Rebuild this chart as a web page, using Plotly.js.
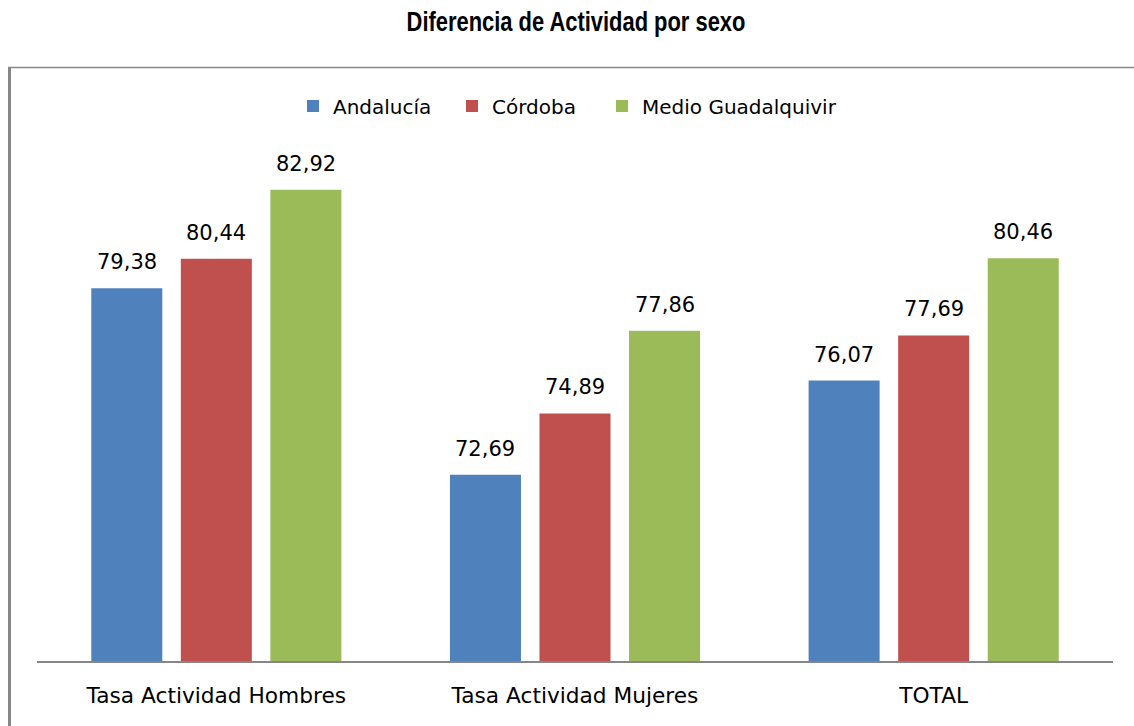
<!DOCTYPE html>
<html>
<head>
<meta charset="utf-8">
<script src="https://cdn.plot.ly/plotly-3.0.1.min.js"></script>
<style>
  html, body { margin: 0; padding: 0; background: #ffffff; }
  #chart { width: 1134px; height: 726px; }
</style>
</head>
<body>
<div id="chart"></div>
<script>
// ---- data ----
var categories = ["Tasa Actividad Hombres", "Tasa Actividad Mujeres", "TOTAL"];
var seriesNames = ["Andalucía", "Córdoba", "Medio Guadalquivir"];
var andalucia = [79.38, 72.69, 76.07];
var cordoba = [80.44, 74.89, 77.69];
var medioGuadalquivir = [82.92, 77.86, 80.46];
var yRange = [66, 86];

// ---- style ----
var colors = ["#4F81BD", "#C0504D", "#9BBB59"];
var W = 1134, H = 726;
var M = { l: 37, r: 21, t: 104, b: 65 };
var BARGAP = 0.251, BARGROUPGAP = 0.207;
var legendLeftPx = [293, 452, 602];
var TITLE_WIDTH_PX = 339;
var seriesValues = [andalucia, cordoba, medioGuadalquivir];

function fmt(v) { return v.toFixed(2).replace(".", ","); }

var pw = W - M.l - M.r, ph = H - M.t - M.b;
function px2paperX(px) { return (px - M.l) / pw; }
function px2paperY(py) { return (H - M.b - py) / ph; }

var legendFont = { family: "DejaVu Sans, sans-serif", size: 20, color: "#000000" };

var traces = seriesValues.map(function (vals, j) {
  return {
    type: "bar",
    name: seriesNames[j],
    x: categories,
    y: vals,
    marker: { color: colors[j] },
    hoverinfo: "skip",
    legend: j === 0 ? "legend" : "legend" + (j + 1)
  };
});

// value labels via annotations placed on the axis scale
var slot = (1 - BARGAP) / seriesValues.length;
var annotations = [];
seriesValues.forEach(function (vals, j) {
  vals.forEach(function (v, i) {
    annotations.push({
      x: i + (j - (seriesValues.length - 1) / 2) * slot,
      y: v,
      xref: "x", yref: "y",
      text: fmt(v),
      showarrow: false,
      xanchor: "center", yanchor: "bottom",
      yshift: 12,
      font: { family: "DejaVu Sans, sans-serif", size: 21, color: "#000000" }
    });
  });
});

var shapes = [
  { type: "line", xref: "paper", yref: "paper",
    x0: px2paperX(9.5), x1: px2paperX(9.5), y0: px2paperY(67), y1: px2paperY(H + 2),
    line: { color: "#878787", width: 3 } },
  { type: "line", xref: "paper", yref: "paper",
    x0: px2paperX(8), x1: px2paperX(W + 2), y0: px2paperY(67.5), y1: px2paperY(67.5),
    line: { color: "#878787", width: 1.5 } }
];

function legendSpec(j) {
  return {
    orientation: "h",
    x: px2paperX(legendLeftPx[j]), xanchor: "left",
    y: px2paperY(106), yanchor: "middle",
    font: legendFont,
    bgcolor: "rgba(0,0,0,0)",
    borderwidth: 0
  };
}

var layout = {
  width: W, height: H,
  margin: M,
  paper_bgcolor: "#ffffff",
  plot_bgcolor: "#ffffff",
  barmode: "group",
  bargap: BARGAP,
  bargroupgap: BARGROUPGAP,
  title: {
    text: "<b>Diferencia de Actividad por sexo</b>",
    xref: "container", yref: "container",
    x: 576 / W, y: 1 - 22 / H,
    xanchor: "center", yanchor: "middle",
    font: { family: "Liberation Sans, Arial, sans-serif", size: 27, color: "#000000" }
  },
  showlegend: true,
  legend: legendSpec(0),
  legend2: legendSpec(1),
  legend3: legendSpec(2),
  xaxis: {
    type: "category",
    showline: true, linecolor: "#868686", linewidth: 1.5,
    ticks: "", showgrid: false, zeroline: false,
    ticklabelstandoff: 14,
    tickfont: { family: "DejaVu Sans, sans-serif", size: 21.7, color: "#000000" },
    fixedrange: true
  },
  yaxis: {
    range: yRange,
    visible: false,
    showgrid: false, zeroline: false,
    fixedrange: true
  },
  annotations: annotations,
  shapes: shapes
};

Plotly.newPlot("chart", traces, layout, { displayModeBar: false, staticPlot: true }).then(function (gd) {
  // condense the title horizontally to the reference's narrow typeface width
  var t = gd.querySelector(".gtitle");
  if (t && t.getBBox) {
    var bb = t.getBBox();
    if (bb.width > 0) {
      var s = TITLE_WIDTH_PX / bb.width;
      var cx = bb.x + bb.width / 2;
      t.setAttribute("transform", "translate(" + cx + ",0) scale(" + s + ",1) translate(" + (-cx) + ",0)");
    }
  }
});
</script>
</body>
</html>
